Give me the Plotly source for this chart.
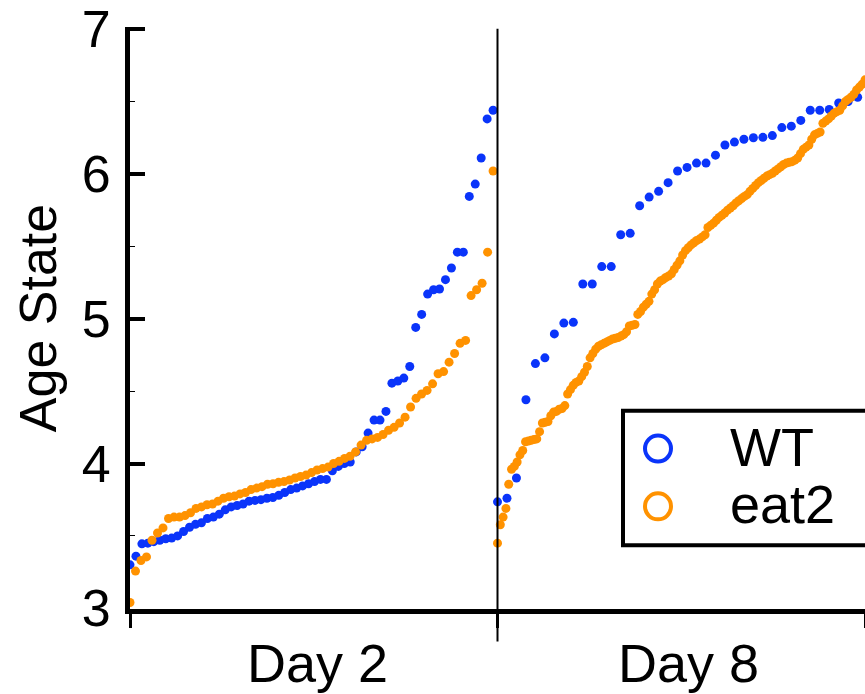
import numpy as np
import plotly.graph_objects as go

# Sorted Age State values per sample (rank order within each day)
wt_day2 = [3.30, 3.36, 3.445, 3.45, 3.46, 3.47, 3.48, 3.485, 3.50, 3.53, 3.56, 3.58, 3.59,
           3.62, 3.63, 3.65, 3.68, 3.70, 3.71, 3.72, 3.74, 3.745, 3.75, 3.76, 3.765, 3.78,
           3.80, 3.82, 3.83, 3.845, 3.86, 3.875, 3.89, 3.89, 3.95, 3.98, 4.00, 4.01, 4.08,
           4.115, 4.21, 4.30, 4.30, 4.36, 4.555, 4.57, 4.59, 4.67, 4.94, 5.03, 5.17, 5.20,
           5.205, 5.27, 5.35, 5.46, 5.46, 5.845, 5.93, 6.11, 6.38, 6.44]
eat2_day2 = [3.04, 3.257, 3.33, 3.355, 3.47, 3.52, 3.555, 3.62, 3.63, 3.63, 3.64, 3.66, 3.69,
             3.70, 3.715, 3.72, 3.74, 3.76, 3.77, 3.775, 3.79, 3.80, 3.82, 3.83, 3.84, 3.857,
             3.86, 3.87, 3.875, 3.886, 3.90, 3.91, 3.92, 3.937, 3.955, 3.965, 3.975, 4.00,
             4.015, 4.035, 4.05, 4.08, 4.127, 4.16, 4.17, 4.18, 4.20, 4.23, 4.25, 4.28, 4.32,
             4.39, 4.45, 4.48, 4.505, 4.55, 4.62, 4.635, 4.70, 4.76, 4.83, 4.85, 5.16, 5.20,
             5.245, 5.46, 6.02]
wt_day8 = [3.735, 3.76, 3.90, 4.44, 4.69, 4.73, 4.895, 4.97, 4.975, 5.24, 5.24, 5.36, 5.36,
           5.58, 5.59, 5.78, 5.84, 5.88, 5.94, 6.02, 6.045, 6.075, 6.075, 6.13, 6.20, 6.22,
           6.24, 6.25, 6.253, 6.265, 6.32, 6.33, 6.37, 6.44, 6.44, 6.445, 6.49, 6.50, 6.53]
eat2_day8 = [3.45, 3.577, 3.63, 3.69, 3.857, 3.96, 3.98, 4.01, 4.06, 4.09, 4.15, 4.155, 4.16,
             4.165, 4.17, 4.22, 4.28, 4.285, 4.29, 4.33, 4.355, 4.36, 4.375, 4.38, 4.40, 4.48,
             4.51, 4.54, 4.56, 4.57, 4.60, 4.63, 4.67, 4.73, 4.76, 4.79, 4.81, 4.82, 4.83,
             4.84, 4.85, 4.86, 4.865, 4.87, 4.88, 4.89, 4.91, 4.95, 4.955, 4.96, 5.03, 5.05,
             5.08, 5.10, 5.12, 5.17, 5.20, 5.24, 5.26, 5.27, 5.285, 5.295, 5.31, 5.34, 5.37,
             5.40, 5.44, 5.47, 5.49, 5.51, 5.525, 5.54, 5.55, 5.565, 5.58, 5.63, 5.645, 5.66,
             5.68, 5.70, 5.715, 5.73, 5.75, 5.765, 5.78, 5.80, 5.815, 5.83, 5.845, 5.857, 5.88,
             5.90, 5.92, 5.94, 5.955, 5.97, 5.985, 5.995, 6.005, 6.02, 6.035, 6.05, 6.065,
             6.075, 6.08, 6.085, 6.095, 6.11, 6.14, 6.17, 6.185, 6.20, 6.24, 6.27, 6.28, 6.29,
             6.35, 6.365, 6.38, 6.40, 6.42, 6.43, 6.44, 6.47, 6.50, 6.515, 6.53, 6.55, 6.58,
             6.60, 6.62, 6.65]

day_labels = ["Day 2", "Day 8"]
series_names = ["WT", "eat2"]
series_colors = ["#0A34FA", "#FF9200"]
y_ticks = [3, 4, 5, 6, 7]


def rank_positions(values, start, span):
    # samples are laid out in rank order across their day's slot
    n = len(values)
    return start + span * np.arange(n) / (n - 1)


fig = go.Figure()
groups = [
    (wt_day2, 0, 0.988, 0), (eat2_day2, 0, 0.988, 1),
    (wt_day8, 1.0, 0.98, 0), (eat2_day8, 1.0, 1.0, 1),
]
for vals, start, span, k in groups:
    fig.add_trace(go.Scatter(
        x=rank_positions(vals, start, span), y=vals, mode="markers",
        marker=dict(color=series_colors[k], size=9, line=dict(width=0)),
        name=series_names[k], showlegend=False, cliponaxis=False))

# divider between days
fig.add_shape(type="line", xref="x", yref="paper", x0=1, x1=1, y0=-0.056, y1=0.997,
              line=dict(color="black", width=2))

W_FIG, H_FIG = 865, 694
L = 130; T = 25; B = 609
PW = W_FIG - L; PH = B - T
def px_x(p): return (p - L) / PW
def px_y(p): return (B - p) / PH

# legend box (manual, with open circle markers)
fig.add_shape(type="rect", xref="paper", yref="paper",
              x0=px_x(623), x1=px_x(885), y0=px_y(545), y1=px_y(410),
              line=dict(color="black", width=4), fillcolor="white", layer="above")
for k, cy in enumerate([448, 506]):
    fig.add_shape(type="circle", xref="paper", yref="paper",
                  xsizemode="pixel", ysizemode="pixel",
                  xanchor=px_x(658), yanchor=px_y(cy), x0=-13, x1=13, y0=-13, y1=13,
                  line=dict(color=series_colors[k], width=4), layer="above")
    fig.add_annotation(xref="paper", yref="paper", x=px_x(728), y=px_y(cy - 2),
                       text=series_names[k], showarrow=False, xanchor="left",
                       yanchor="middle", font=dict(size=54, color="black"))

fig.update_layout(
    width=W_FIG, height=H_FIG,
    margin=dict(l=L, r=0, t=T, b=H_FIG - B),
    plot_bgcolor="white", paper_bgcolor="white",
    font=dict(family="Liberation Sans, Arial, Helvetica, sans-serif", color="black"),
    showlegend=False,
)
fig.update_xaxes(
    range=[0, 2], showgrid=False, zeroline=False,
    showline=True, linecolor="black", linewidth=5,
    tickmode="array", tickvals=[0.51, 1.52], ticktext=day_labels, ticks="",
    tickfont=dict(size=54), ticklabeloverflow="allow",
    ticklabelstandoff=3,
    minor=dict(tickmode="array", tickvals=[0, 1, 2], ticks="outside", ticklen=14,
               tickwidth=3, tickcolor="black"),
)
fig.update_yaxes(
    range=[2.995, 7.015], showgrid=False, zeroline=False,
    showline=True, linecolor="black", linewidth=5,
    tickmode="array", tickvals=y_ticks, ticks="inside", ticklen=15, tickwidth=4,
    tickcolor="black", tickfont=dict(size=52), ticklabelstandoff=4,
    ticklabeloverflow="allow",
    minor=dict(tickmode="array", tickvals=[3.5, 4.5, 5.5, 6.5], ticks="inside",
               ticklen=5, tickwidth=1, tickcolor="black"),
    title=dict(text="Age State", font=dict(size=52), standoff=10),
)

fig.write_html("out.html", config={"displayModeBar": False},
               post_script="document.body.style.margin='0';")
